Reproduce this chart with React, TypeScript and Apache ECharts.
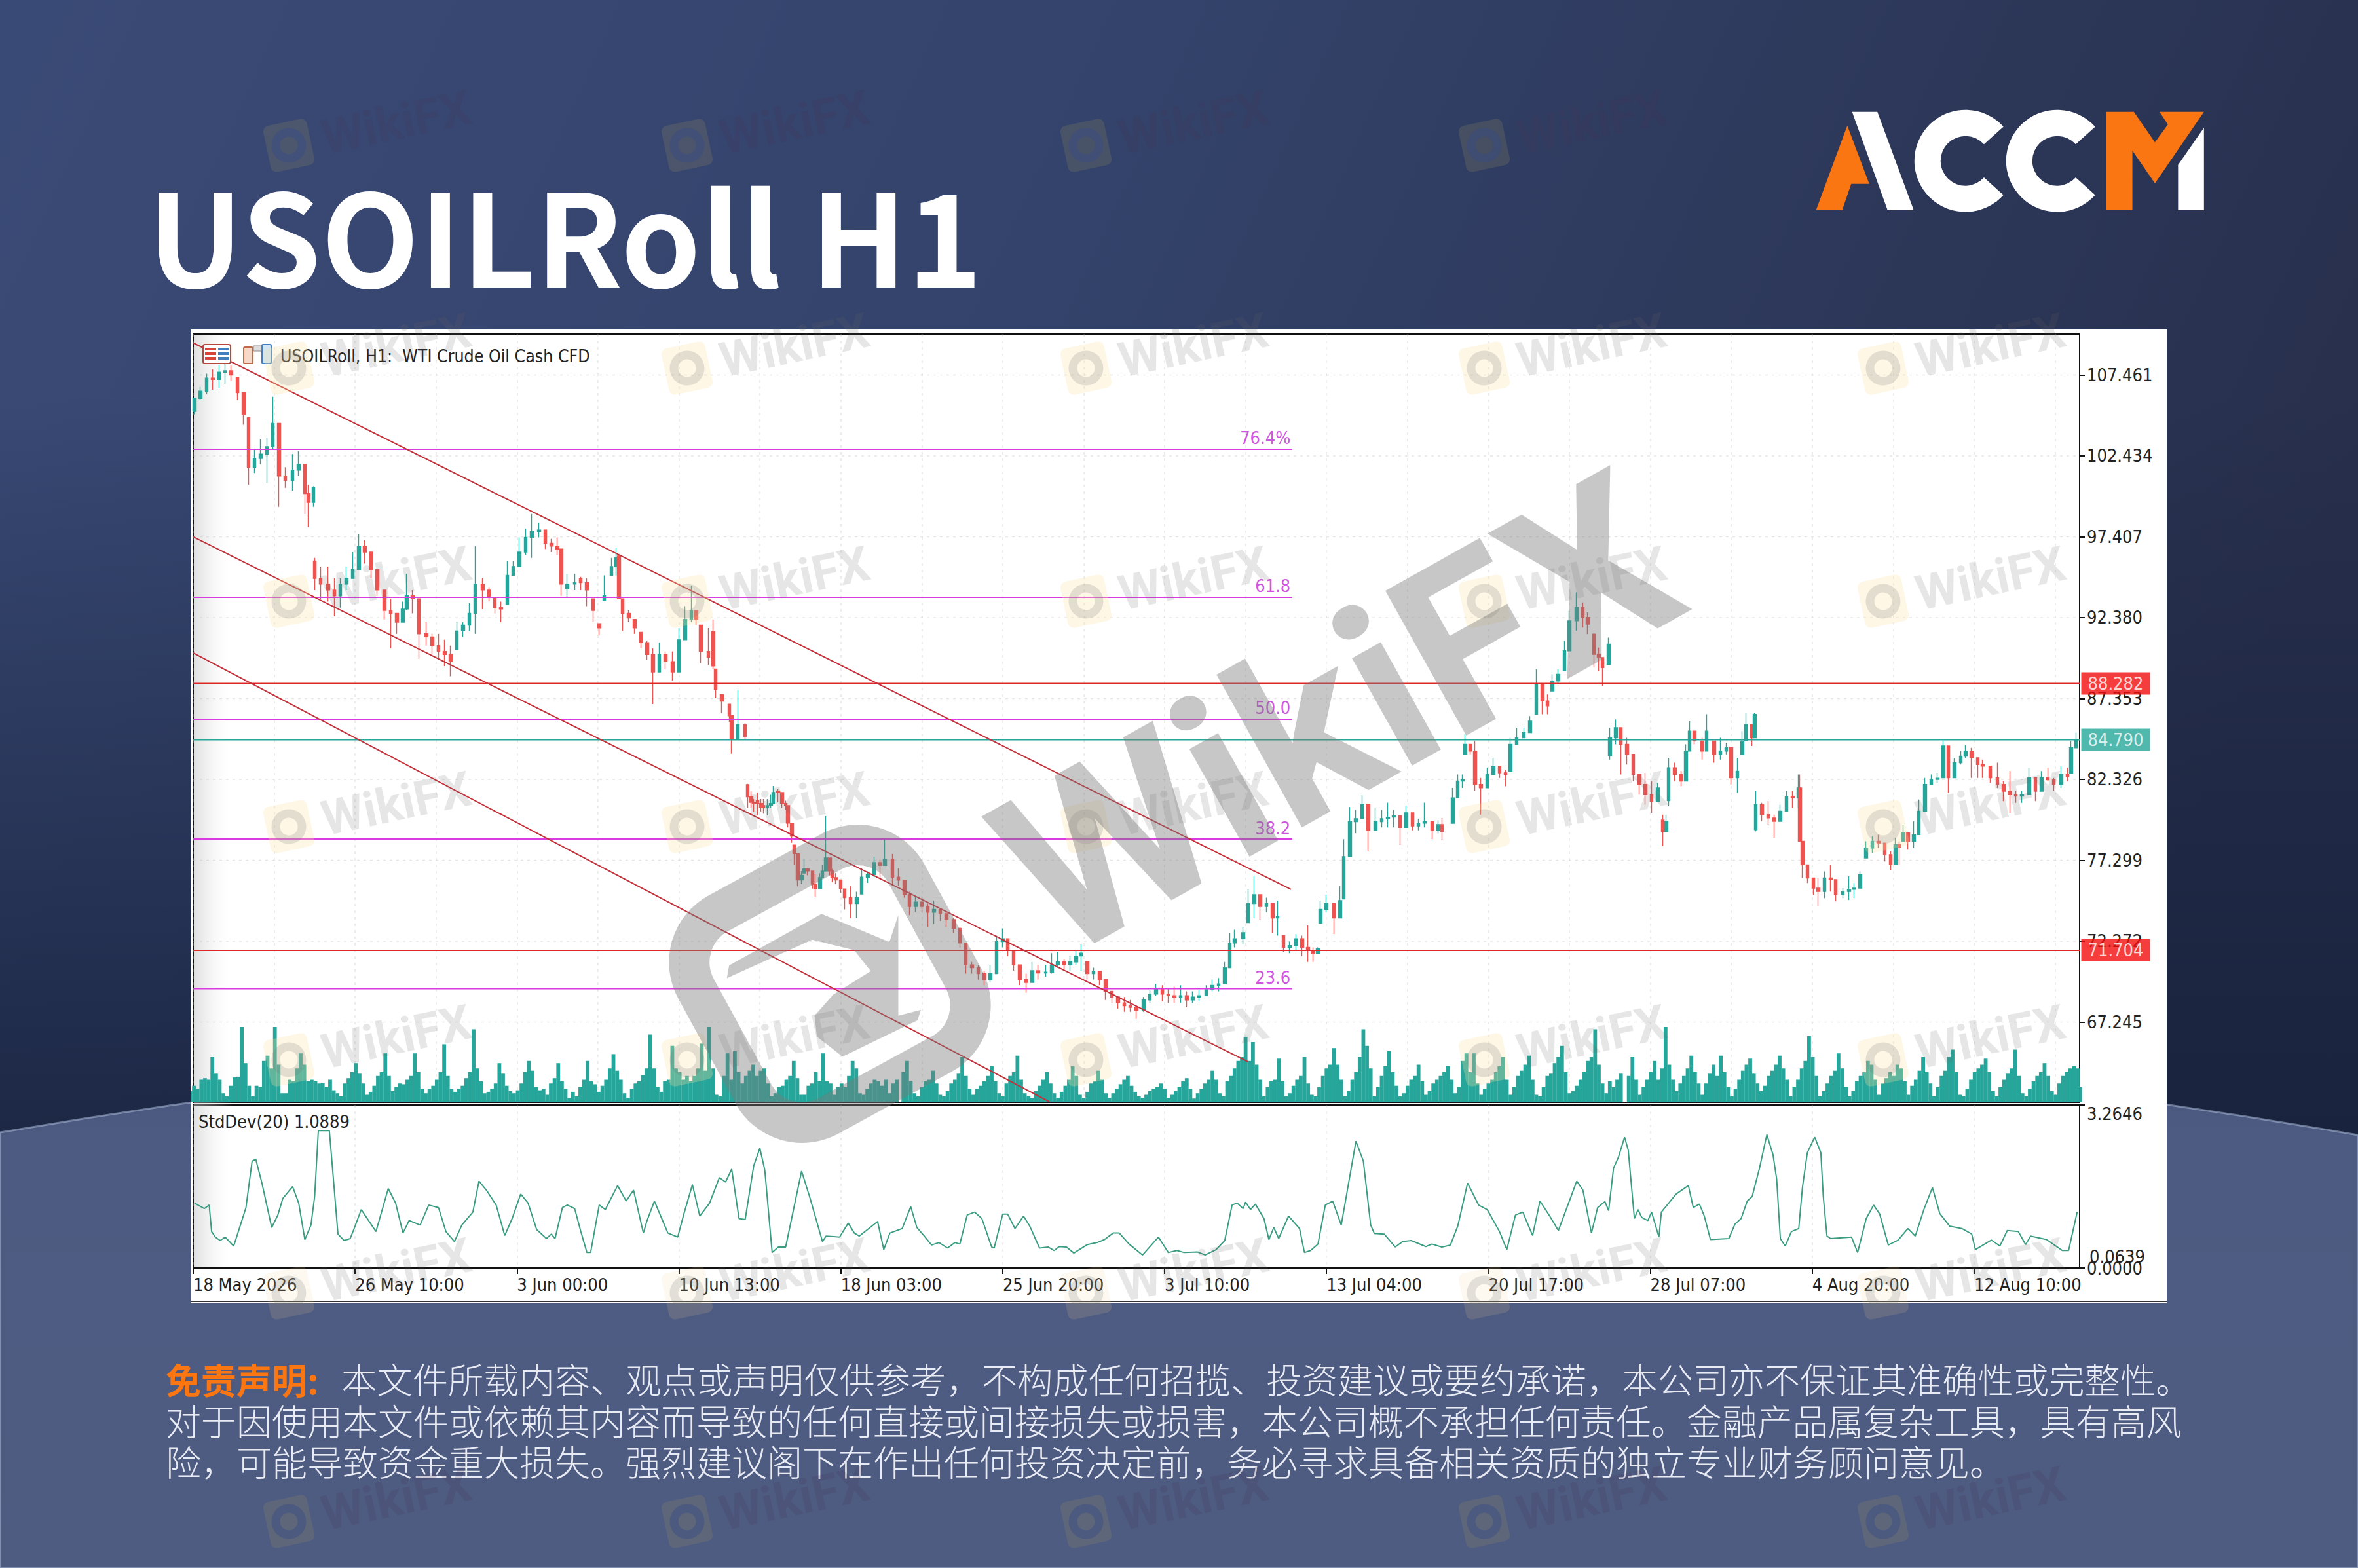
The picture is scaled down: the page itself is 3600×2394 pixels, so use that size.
import React, { useEffect, useRef } from "react";
import * as echarts from "echarts";

const W = 3600;
const H = 2394;

// [hour index, open, close, low, high]
const candlesFirst = [
[1,105.2,106,105,106],[6,106,106.45,105.9,106.72],[11,106.45,107.27,106.27,107.54],[16,107.27,107.18,106.54,107.81],[21,107.18,107.63,106.63,108.08],[26,107.63,107.72,106.9,108.17],[31,107.72,107.45,107.09,108.08],[36,107.3,106.36,105.9,107.3],[41,106.36,105,104.36,106.36],[45,104.81,101.73,100.63,104.81],[50,101.73,102.27,101.36,102.82],[55,102.27,102.54,101.91,103.45],[60,102.54,103,100.73,103.54],[65,103,104.45,102.82,106.1],[70,104.45,101.18,99.27,104.45],[75,101.18,100.9,100.45,101.73],[81,100.9,101.54,100.27,102.54],[86,101.54,101.9,101.18,102.73],[91,101.9,100.09,98.82,101.9],[94,100.09,99.54,98,100.63],[98,99.54,100.45,99.27,100.54],
];
const candlesSecond = [
[99,95.9,94.82,94.09,96.09],[104,94.82,94.46,93.55,95.55],[110,94.46,94.09,93.37,95.55],[115,94.09,93.73,92.46,94.82],[120,93.73,94.46,93,94.82],[125,94.46,94.82,94.09,95.55],[130,94.82,95.36,94.82,96.45],[135,95.36,96.82,95.36,97.55],[140,96.82,96.45,95.73,97.18],[145,96.45,95.36,94.82,96.45],[150,95.36,94.09,93.73,95.36],[156,94.09,92.82,92.27,94.09],[161,92.82,92.64,90.46,93.55],[166,92.64,92.09,91.37,92.64],[171,92.09,92.91,92.09,93.37],[174,92.91,93.73,92.82,95.09],[179,93.73,93.55,92.64,94.09],[184,93.55,91.37,89.82,93.55],[190,91.37,91.18,90.64,92.09],[195,91.18,90.64,90.09,91.37],[200,90.64,90.27,89.73,91.37],[205,90.27,90.09,89.37,91],[210,90.09,89.64,88.73,90.64],[215,90.4,91.55,90.4,92.09],[220,91.55,91.91,91.18,92.09],[225,91.91,92.64,91.55,93.27],[230,92.64,94.46,91.37,96.82],[236,94.46,94.09,92.91,94.82],[241,94.09,93.64,93.37,94.27],[246,93.64,93,92.64,93.64],[251,93,92.91,92.09,93.37],[256,93.2,95,93.2,95.91],[261,95,95.55,95,95.91],[266,95.55,96.45,95.55,97.36],[271,96.45,97.36,96.27,97.9],[276,97.36,97.73,96.09,98.82],[282,97.73,97.82,97.36,98.27],[287,97.82,97,96.64,97.82],[292,97,96.82,96.45,97.27],[297,96.82,96.64,96.27,97.36],[300,96.64,94.46,93.73,96.64],[305,94.2,94.46,93.64,95.09],[311,94.46,94.55,94.09,95.09],[316,94.8,94.55,94.09,94.91],[321,94.55,94.09,93.09,94.82],[326,93.55,92.82,92.09,93.55],[331,92,91.73,91.27,92],[335,93.46,93.73,93.46,95],[341,95,95.55,95,96.09],[345,95.55,96.09,95,96.73],[347,96.2,93.55,93.55,96.27],[350,93.55,92.64,91.55,93.55],[355,92.64,92.36,92.09,92.82],[360,92.27,91.73,91.37,92.27],[365,91.46,90.82,90.46,91.46],[370,90.82,90.09,89.73,90.91],[375,90.09,89,87,90.46],[380,89,90.09,89,90.82],[385,90.09,89.64,89.18,90.27],[391,89.64,89,88.46,90.27],[396,89,91,89,91.73],[401,91,92.27,91,93.09],[406,92.27,92.82,92.09,94.37],[410,92.82,92.27,91.91,92.82],[414,91.91,90.27,89.55,91.91],[420,90.27,89.91,89.45,91.73],[424,91.5,89.37,89.18,92.27],[426,89.18,87.91,87.37,89.18],[431,87.6,87.19,86.46,87.64],[437,87,86.28,85.91,87],[439,86.28,84.83,83.92,86.28],[444,84.83,85.73,84.83,87.9],[450,85.73,85,84.83,85.82],
];
const candlesThird = [
[452,82,81.24,80.56,82.05],[455,81.24,80.9,80.56,81.58],[457,80.9,80.83,80.29,81.1],[460,81,80.83,80.09,81.51],[463,80.83,80.56,80.29,81.1],[465,80.7,80.56,80.2,81.1],[468,80.56,80.7,80.09,81.1],[471,80.7,80.83,80.56,81.37],[473,80.83,81.51,80.83,81.92],[477,81.6,81.51,80.9,81.71],[480,81.51,80.83,80.56,81.51],[483,80.83,80.7,80.43,81],[485,80.7,79.61,79.34,80.7],[488,79.61,78.8,78.39,79.61],[490,78.25,77.71,77.03,78.25],[493,77.71,76.08,75.68,77.71],[496,76.08,76.36,75.81,76.63],[498,76.5,76.76,76.49,77.37],[501,76.76,76.63,76.36,76.76],[505,76.63,75.81,75.54,76.63],[507,75.81,75.54,75,76.42],[511,75.54,76.22,75.54,76.49],[513,76.22,76.63,76.2,77.03],[516,76.63,77.44,76.6,80.05],[519,77.44,76.63,76.36,77.44],[521,76.63,76.22,75.95,76.76],[524,76.22,76.08,75.81,76.49],[528,76.08,75.54,75.27,76.08],
[531,75.52,74.98,74.25,75.52],[536,74.98,74.61,73.71,75.71],[541,74.61,74.98,73.71,75.34],[545,75.2,76.25,75.2,76.8],[550,76.25,76.4,75.89,76.61],[555,76.4,77.16,76.25,77.52],[560,77.16,76.98,76.07,77.34],[564,76.98,77.34,76.98,78.61],[570,77.34,76.25,75.71,77.7],[575,76.25,76.07,75.71,76.8],[580,76.07,75.16,74.98,76.07],[584,75.16,74.43,73.89,75.34],[589,74.43,74.71,74.07,75.07],[594,74.71,74.43,74.07,74.98],[599,74.43,74.07,73.16,74.61],[604,74.07,74.25,73.34,74.8],[609,74.25,73.98,73.53,74.25],[614,73.98,73.62,73.16,74.07],[620,73.62,73.07,72.8,73.71],[625,73.07,72.16,71.89,73.16],[630,72.16,70.8,70.26,72.16],[635,70.8,70.62,70.26,70.98],[640,70.62,70.26,69.89,70.8],[645,70.26,69.89,69.53,70.44],[650,69.89,70.26,69.71,70.8],[655,70.26,72.25,70.26,72.62],[660,72.25,72.43,71.89,73.07],[664,72.43,71.71,71.35,72.43],[669,71.71,70.8,70.44,71.71],[674,70.8,69.89,69.53,70.8],[679,69.89,69.71,69.07,70.26],[684,69.71,70.44,69.71,70.98],[689,70.44,70.3,69.89,70.8],[695,70.3,70.35,70.07,70.8],[700,70.35,70.8,70.26,71.53],[705,70.8,70.98,70.62,71.62],[710,70.98,70.8,70.44,71.16],[715,70.8,70.98,70.44,71.35],[720,70.98,71.35,70.8,71.71],[724,71.35,71.53,70.44,72.07],[729,71,70.26,69.89,71],[734,70.26,70.4,69.89,70.62],[739,70.4,69.89,69.53,70.4],[744,69.89,69.16,68.62,69.89],[749,69.16,68.8,68.44,69.16],[754,68.8,68.44,68.07,68.8],[759,68.44,68.26,67.89,68.8],[764,68.26,68.16,67.89,68.62],[769,68.16,67.98,67.44,68.26],[775,67.98,68.62,67.89,68.8],[780,68.62,68.98,68.44,69.26],[785,68.98,69.35,68.89,69.62],[790,69.35,68.98,68.53,69.53],[795,68.98,68.89,68.44,69.35],[800,68.89,68.8,68.44,69.44],[805,68.8,68.89,68.44,69.53],[810,68.89,68.62,68.16,69.16],[815,68.62,68.8,68.44,69.16],[820,68.8,68.89,68.53,69.26],[826,68.89,69.26,68.89,69.53],[831,69.26,69.53,69.16,69.89],[836,69.53,69.62,69.16,69.98],[841,69.62,70.62,69.62,70.98],[845,70.62,72.16,70.62,72.8],[849,72.16,72.43,71.89,72.98],[856,72.43,72.8,72.07,73.16],[860,73.43,74.61,73.43,75.52],[865,74.61,75.16,73.71,76.34],[870,75.16,74.43,73.62,75.16],[875,74.43,74.6,74.07,74.98],[880,74.6,73.71,72.8,74.6],[884,73.71,73.8,72.62,74.8],[889,72.62,71.89,71.62,72.62],[894,71.89,72,71.53,72.25],[899,72,72.43,71.71,72.71],[904,72.43,71.89,71.35,72.62],[909,71.89,71.71,70.98,73.25],[913,71.71,71.53,70.98,71.89],[917,71.53,71.8,71.53,71.89],
];
const candlesFourth = [
[919,73.4,74.25,73.34,74.8],[924,74.25,74.61,74.07,75.16],[930,74.61,73.71,72.71,74.61],[935,73.71,74.8,73.71,75.71],[938,74.9,77.52,74.9,78.61],[943,77.52,79.7,77.52,80.61],[948,79.7,79.88,78.98,80.43],[953,79.88,80.79,79.88,81.34],[958,80.79,79.16,77.89,80.79],[964,79.16,79.7,79.16,80.52],[969,79.7,79.88,79.34,80.43],[974,79.88,79.98,79.34,80.88],[979,79.98,80.07,79.34,80.43],[984,80.07,79.34,78.25,80.07],[989,79.34,80.25,79.34,80.7],[994,80.25,79.43,79.16,80.25],[999,79.43,79.61,79.16,79.88],[1004,79.61,79.7,79.34,80.88],[1010,79.7,79.16,78.61,79.7],[1015,79.16,79.52,78.98,79.79],[1018,79.52,79.1,78.58,79.93],[1027,79.6,81.18,79.6,81.8],[1031,81.18,82.22,81.18,82.63],[1035,82.22,82.3,81.8,82.63],[1037,83.9,84.5,83.9,85.12],[1041,84.5,84.08,83.88,84.5],[1045,84.08,82.01,81.59,84.71],[1050,82.01,81.8,80.14,82.42],[1055,81.8,82.63,81.8,83.05],[1060,82.63,83.15,82.63,83.67],[1065,83.15,82.73,82.42,83.15],[1070,82.73,82.63,81.9,82.94],[1074,82.84,84.5,82.84,84.91],[1079,84.5,84.91,84.5,85.54],[1085,84.91,85.23,84.91,85.54],[1090,85.23,85.95,85.23,86.26],[1095,86.37,88.24,86.37,89.17],[1100,88.24,87.2,86.37,88.24],[1104,87.2,86.89,86.37,87.61],[1108,87.82,88.44,87.82,88.86],[1113,88.44,88.86,88.24,89.17],[1118,89.07,90.31,89.07,90.93],[1122,90.31,92.18,90.31,92.8],[1128,92.18,93.01,91.56,93.94],[1133,93.01,92.39,91.76,93.32],[1137,92.39,91.97,91.35,92.7],[1142,91.35,90.1,89.27,91.35],[1146,90.1,89.9,89.07,90.52],[1149,89.9,89.27,88.13,89.9],[1154,89.48,90.73,89.48,91.14],
[1155,83.8,84.91,83.56,85.54],[1160,84.91,85.54,84.5,86.06],[1164,85.54,84.5,82.63,85.54],[1169,84.5,83.88,83.25,84.91],[1174,83.88,82.63,82.22,83.88],[1179,82.63,82.01,81.38,82.63],[1184,82.01,81.38,80.76,82.73],[1189,81.38,80.97,80.24,82.22],[1194,80.97,81.8,80.97,82.11],[1198,79.8,79.1,78.17,80.14],[1201,79.1,79.72,79.1,80.14],[1203,81,83.05,80.66,83.67],[1208,83.05,82.63,82.22,83.36],[1213,82.63,82.22,81.9,82.84],[1217,82.22,84.08,82.22,84.5],[1220,84.08,85.33,84.08,85.95],[1224,85.33,84.71,84.5,85.33],[1230,84.71,84.08,83.56,84.91],[1234,84.08,85.33,84.08,86.37],[1240,84.71,83.88,83.36,84.71],[1245,83.88,84.08,83.56,84.91],[1250,84.08,84.29,83.88,84.6],[1254,84.29,82.42,82.01,84.29],[1259,82.42,82.84,81.49,83.67],[1263,83.88,84.71,83.88,85.33],[1266,84.71,85.74,84.71,86.48],[1271,85.74,84.91,84.4,85.74],[1273,84.91,86.37,84.91,86.48],
[1274,79.2,80.76,79.1,81.59],[1279,80.76,80.14,79.72,80.87],[1284,80.14,79.93,79.52,80.97],[1289,79.93,79.72,78.69,80.14],[1294,79.72,80.35,79.72,80.76],[1299,80.35,81.28,80.35,81.59],[1304,81.28,81.18,80.55,81.59],[1309,81.18,81.8,80.55,82.63],[1310,81.8,78.48,78.48,82.63],[1312,78.48,77.02,76.2,78.48],[1316,77.02,76.2,75.88,77.02],[1321,76.2,75.57,75.16,76.2],[1325,75.57,75.36,74.43,76.2],[1330,75.36,76.2,74.95,76.61],[1335,76.2,76.1,75.36,77.02],[1339,76.1,75.16,74.74,76.1],[1345,75.16,75.36,74.95,75.57],[1350,75.36,75.5,74.84,76.3],[1354,75.5,75.57,74.95,75.88],[1359,75.57,76.4,75.57,76.61],[1364,77.44,78.06,77.44,78.48],[1369,78.06,78.48,77.75,78.79],[1374,78.48,78.37,78.06,78.89],[1379,78.37,77.65,77.23,78.37],[1384,77.65,77.02,76.71,77.85],[1388,77.02,78.27,77.02,78.69],[1391,78.27,78.1,77.02,78.48],[1394,78.48,79,78.48,79.52],[1398,79,78.48,77.96,79],[1403,78.48,78.89,78.06,79.72],[1407,78.89,80.35,78.89,81.07],[1412,80.35,82.01,80.35,82.42],[1417,82.01,82.32,82.01,82.63],[1422,82.32,82.4,82.11,82.73],[1427,82.42,84.4,82.42,84.75],[1431,84.4,82.42,81.49,84.4],[1436,82.42,83.36,82.42,83.67],[1441,83.36,83.77,83.25,84.08],[1445,83.77,84.08,83.67,84.46],[1450,84.08,83.67,82.42,84.29],[1455,83.67,83.25,82.42,83.67],[1459,83.25,83.15,82.42,83.56],[1465,83.15,82.42,82.11,83.15],[1471,82.42,82.01,81.8,83.36],[1476,82.01,81.59,80.97,82.22],[1481,81.59,81.38,80.24,82.84],[1486,81.38,81.28,80.87,81.59],[1491,81.28,81.38,80.87,81.59],[1497,81.38,82.42,81.38,83.05],[1502,82.42,81.59,80.97,82.42],[1507,81.59,82.42,81.59,82.84],[1512,82.42,82.3,82.22,83.05],[1517,82.3,82.01,81.59,82.42],[1523,82.01,82.63,81.8,83.15],[1528,82.63,82.5,82.22,83.05],[1531,82.7,84.29,82.7,84.71],[1535,84.29,84.79,84.29,85.23],
];

// volume, one reading per three hours
const volumeFirst = [15,22,18,30,32,30,60,38,30,12,8,22,33,34,100,52,22,8,22,20,55,62,45,100,50,12,12,30,28,45,65,50,28,30,28,25,26,20,30,16,12,8,25,32,40,52,38,25,10,14,22,35,40,65,35,15,20,25,24,30,35,65,40,18,12,18,22,30,40,77,35,18,14,18,22,32,40,97,45,28,12,14,18,25,52,38,22,15,12,16,25,40,55,42,20,16,18,10,25,32,52,28,18,6,14,8,20,30,55,28,24,14,22,30,45,64,42,30,12,6,18,25,28,36,45,90,45,20,14,28,30,75,45,40,30,35,28,35,45,78,42,100,45,10,8,35,65,30,68,40,25,35,42,50,35,42,45,25,8,12,20,22,30,35,55,32,10,10,22,25,40,28,65,28,25,10,20,25,20,35,55,45,12,10,18,25,30,28,22,30,12,25,30];
const volumeSecond = [40,55,28,12,8,20,28,30,42,25,10,8,15,25,30,38,60,35,18,10,18,22,28,35,48,28,12,8,25,35,40,62,30,12,8,6,15,22,30,40,25,12,6,14,22,30,48,35,10,6,14,25,28,42,30,12,6,12,18,24,30,35,22,14,8,6,10,15,18,20,25,18,6,10,15,20,28,32,18,5,12,18,25,30,42,30,12,8,28,35,45,55,60,87,55,80,50,30,8,20,28,30,58,28,8,12,22,30,35,60,25,10,8,20,35,45,50,72,50,30,8,15,30,40,60,97,75,45,8,20,35,48,68,40,22,8,12,22,30,35,50,28,10,15,25,30,35,40,48,30,12,20,55,65,40,65,25,10,18,25,30,40,48,60,30,10,20,35,42,50,62,30,10,8,20,35,38,52,60,75,40,12,15,22,30,40,55,60,97,50,25,12,28,20,30,38];
const volumeThird = [35,60,30,10,20,30,40,55,30,45,100,50,30,15,25,35,45,62,40,25,10,25,38,50,35,62,40,20,8,18,30,42,50,58,38,25,15,22,35,42,50,62,45,30,8,20,30,45,55,88,60,35,8,15,25,35,42,65,45,20,8,15,28,35,40,55,50,30,10,25,32,40,35,50,45,28,10,22,30,42,60,40,25,8,20,35,42,60,70,40,10,8,18,30,40,45,50,58,40,15,8,20,30,38,45,70,35,12,8,18,28,35,40,52,35,15,10,25,35,40,45,48,45,20,12];

// StdDev(20) readings: [hour index, value]
const stdDev = [
[1,1.3],[9,1.19],[13,1.26],[15,.73],[18,.62],[22,.55],[26,.62],[33,.44],[39,.9],[43,1.21],[48,2.14],[51,2.18],[56,1.7],[64,.81],[69,1.06],[73,1.39],[81,1.63],[86,1.3],[91,.57],[96,.86],[99,1.43],[102,2.75],[111,2.75],[114,1.87],[118,.68],[123,.55],[128,.59],[132,.84],[137,1.17],[149,.73],[159,1.59],[165,1.3],[171,.7],[176,.95],[185,.86],[192,1.26],[200,1.21],[206,.73],[213,.53],[219,.86],[228,1.12],[233,1.74],[239,1.56],[247,1.26],[254,.65],[260,.99],[267,1.48],[273,1.3],[280,.77],[288,.59],[292,.68],[295,.59],[301,1.21],[305,1.26],[311,1.19],[316,.73],[321,.31],[324,.31],[331,1.26],[336,1.17],[346,1.65],[353,1.34],[359,1.56],[367,.7],[370,.95],[376,1.34],[382,.99],[387,.7],[395,.62],[400,1.08],[407,1.67],[413,1.04],[421,1.3],[429,1.81],[434,1.72],[439,1.98],[445,.99],[450,.97],[457,2.05],[462,2.4],[466,1.96],[472,.31],[477,.42],[483,.42],[496,1.94],[503,1.39],[513,.53],[516,.64],[527,.62],[534,.9],[539,.7],[543,.64],[558,.93],[563,.37],[568,.7],[578,.79],
[585,1.23],[590,.81],[596,.64],[602,.46],[608,.51],[615,.4],[621,.51],[625,.48],[631,1.06],[637,1.12],[643,.99],[651,.42],[653,.4],[660,1.08],[664,1.08],[670,.79],[677,1.04],[682,.84],[690,.4],[697,.42],[702,.35],[706,.43],[712,.42],[718,.3],[729,.47],[737,.51],[743,.57],[750,.7],[755,.7],[763,.48],[774,.26],[787,.62],[795,.31],[802,.35],[808,.31],[819,.32],[825,.26],[834,.37],[841,.55],[847,1.26],[851,1.3],[856,1.19],[858,1.32],[862,1.17],[866,1.28],[873,.99],[877,.57],[881,.81],[885,.59],[893,1.04],[902,.79],[906,.31],[911,.35],[917,.48],[923,1.26],[929,1.34],[936,.86],[948,2.54],[954,2.14],[960,.86],[963,.69],[971,.68],[980,.42],[986,.53],[993,.55],[1005,.43],[1010,.48],[1018,.42],[1025,.46],[1031,.84],[1039,1.7],[1048,1.26],[1055,1.17],[1065,.73],[1071,.37],[1078,1.06],[1084,1.12],[1092,.65],[1098,1.34],[1106,1.04],[1113,.75],[1128,1.74],[1133,1.56],[1140,.7],[1145,1.21],[1151,1.33],[1154,1.15],[1158,2],[1162,2.22],[1167,2.62],
[1170,2.36],[1175,.99],[1178,1.17],[1181,1.01],[1186,.95],[1189,1.12],[1195,.62],[1197,1.12],[1209,1.48],[1219,1.65],[1223,1.21],[1228,1.28],[1232,1.04],[1237,.57],[1252,.59],[1257,.88],[1262,.99],[1267,1.34],[1271,1.43],[1277,2],[1283,2.67],[1288,2.27],[1291,1.78],[1294,.59],[1298,.44],[1303,.73],[1309,.79],[1312,1.61],[1316,2.31],[1322,2.62],[1327,2.31],[1329,1.43],[1332,.64],[1335,.59],[1352,.62],[1357,.31],[1364,.99],[1370,1.26],[1375,1.08],[1382,.46],[1390,.56],[1398,.79],[1404,.64],[1411,1.17],[1418,1.61],[1424,1.09],[1432,.84],[1442,.79],[1450,.68],[1453,.37],[1466,.56],[1473,.44],[1479,.75],[1488,.73],[1494,.47],[1498,.64],[1511,.57],[1524,.35],[1529,.35],[1536,1.12],
];

const priceTicks = [67.245, 72.272, 77.299, 82.326, 87.353, 92.38, 97.407, 102.434, 107.461];
const stdTicks = [0, 3.2646];
const timeLabels = ["18 May 2026", "26 May 10:00", "3 Jun 00:00", "10 Jun 13:00", "18 Jun 03:00", "25 Jun 20:00", "3 Jul 10:00", "13 Jul 04:00", "20 Jul 17:00", "28 Jul 07:00", "4 Aug 20:00", "12 Aug 10:00"];
const HOURS_PER_LABEL = 132;
const LAST_HOUR = 1538;

const fibLevels = [
  { name: "76.4%", price: 102.84 },
  { name: "61.8", price: 93.64 },
  { name: "50.0", price: 86.07 },
  { name: "38.2", price: 78.62 },
  { name: "23.6", price: 69.32 },
];
const fibEndHour = 896;
const redLevels = [88.282, 71.704];
const bidLevel = 84.79;
const channels = [
  [[0, 109.45], [895, 75.49]],
  [[0, 97.4], [860, 64.78]],
  [[0, 90.18], [698, 62.3]],
];

const headerText = "USOILRoll, H1:  WTI Crude Oil Cash CFD";
const indicatorText = "StdDev(20) 1.0889";
const titleText = "USOILRoll H1";
const disclaimerHead = "免责声明:";
const disclaimerLines = [
  "本文件所载内容、观点或声明仅供参考\uFF0C不构成任何招揽、投资建议或要约承诺\uFF0C本公司亦不保证其准确性或完整性。",
  "对于因使用本文件或依赖其内容而导致的任何直接或间接损失或损害\uFF0C本公司概不承担任何责任。金融产品属复杂工具\uFF0C具有高风",
  "险\uFF0C可能导致资金重大损失。强烈建议阁下在作出任何投资决定前\uFF0C务必寻求具备相关资质的独立专业财务顾问意见。",
];
const disclaimerSizes = [54, 54.6, 54];
const disclaimerStretch = [1.006, 0.989, 1];

const UP = "#26a69a";
const DOWN = "#ef5350";
const MAGENTA = "#d93be0";
const ORANGE = "#f97612";
const CHART_FONT = "'DejaVu Sans Condensed', 'DejaVu Sans', sans-serif";
const CJK = "'Noto Sans CJK SC', sans-serif";

echarts.graphic.registerShape("bgBand", echarts.graphic.extendPath("M0 1729 Q1800 1420 3600 1733 L3600 2394 L0 2394 Z", {}));

const G = echarts.graphic as any;

function poly(points: number[][], fill: string, z = 5) {
  return { type: "polygon", z, shape: { points }, style: { fill } };
}

function logoC(cx: number, cy: number) {
  const a = (42 * Math.PI) / 180;
  return {
    type: "sector", z: 5,
    shape: { cx, cy, r0: 38, r: 78, startAngle: a, endAngle: Math.PI * 2 - a, clockwise: true },
    style: { fill: "#fff" },
  };
}

function tile(x: number, y: number, mode: "dark" | "white" | "mixed") {
  const z = 60;
  const rectFill = mode === "dark" ? "rgba(150,140,95,0.22)" : mode === "mixed" ? "rgba(240,215,150,0.14)" : "rgba(250,225,160,0.28)";
  const ringColor = mode === "dark" ? "rgba(55,75,135,0.45)" : "rgba(120,118,118,0.2)";
  const textFill = mode === "dark" ? "rgba(70,50,85,0.18)" : "rgba(105,98,98,0.16)";
  return {
    type: "group", x, y, rotation: 0.21,
    children: [
      { type: "rect", z, shape: { x: -34, y: -36, width: 68, height: 72, r: 9 }, style: { fill: rectFill } },
      { type: "circle", z, shape: { cx: 0, cy: 0, r: 20 }, style: { fill: "none", stroke: ringColor, lineWidth: 13 } },
      { type: "text", z, x: 52, y: 0, style: { text: "WikiFX", fontSize: 74, fontWeight: "bold", fontFamily: "Roboto", fill: textFill, textVerticalAlign: "middle" } },
    ],
  };
}

function buildGraphic() {
  const el: any[] = [];
  el.push({
    type: "rect", z: -5, shape: { x: 0, y: 0, width: W, height: H },
    style: {
      fill: new G.LinearGradient(0, 0, 1, 0.3, [
        { offset: 0, color: "#3a4a76" },
        { offset: 0.45, color: "#34436b" },
        { offset: 1, color: "#272f4c" },
      ]),
    },
  });
  el.push({
    type: "rect", z: -5, shape: { x: 0, y: 600, width: W, height: 1200 },
    style: {
      fill: new G.LinearGradient(0, 0, 0, 1, [
        { offset: 0, color: "rgba(22,32,58,0)" },
        { offset: 1, color: "rgba(22,32,58,0.85)" },
      ]),
    },
  });
  el.push({
    type: "bgBand", z: -4,
    style: {
      fill: new G.LinearGradient(0, 0, 0, 1, [
        { offset: 0, color: "#46547c" },
        { offset: 0.2, color: "#4d5a81" },
        { offset: 1, color: "#4f5c82" },
      ]),
      stroke: "rgba(170,185,215,0.55)", lineWidth: 3,
    },
  });

  // white chart frame
  el.push({ type: "rect", z: -3, shape: { x: 291, y: 503, width: 3017, height: 1487 }, style: { fill: "#fff" } });
  el.push({ type: "line", z: 1, shape: { x1: 291, y1: 1987, x2: 3308, y2: 1987 }, style: { stroke: "#333", lineWidth: 2 } });
  el.push({
    type: "rect", z: 0, shape: { x: 296, y: 511, width: 60, height: 1424 },
    style: { fill: new G.LinearGradient(0, 0, 1, 0, [{ offset: 0, color: "rgba(190,190,190,0.5)" }, { offset: 1, color: "rgba(255,255,255,0)" }]) },
  });

  // toolbar icons
  el.push({ type: "rect", z: 6, shape: { x: 310, y: 526, width: 42, height: 29, r: 3 }, style: { fill: "#fff", stroke: "#b5473f", lineWidth: 2 } });
  [531, 538, 545].forEach((y) => {
    el.push({ type: "rect", z: 6, shape: { x: 313, y, width: 17, height: 4 }, style: { fill: "#d8433a" } });
    el.push({ type: "rect", z: 6, shape: { x: 333, y, width: 16, height: 4 }, style: { fill: "#3f7fc0" } });
  });
  el.push({ type: "rect", z: 6, shape: { x: 372, y: 530, width: 14, height: 25, r: 2 }, style: { fill: "#f6d9c8", stroke: "#c06a4a", lineWidth: 2 } });
  el.push({ type: "rect", z: 6, shape: { x: 400, y: 526, width: 14, height: 29, r: 2 }, style: { fill: "#cfe6f7", stroke: "#3f7fc0", lineWidth: 2 } });
  el.push({ type: "rect", z: 6, shape: { x: 387, y: 528, width: 12, height: 8 }, style: { fill: "#ddd", stroke: "#888", lineWidth: 1 } });

  el.push({ type: "text", z: 6, x: 428, y: 543, style: { text: headerText, fontSize: 26.5, fontFamily: CHART_FONT, fill: "#222", textVerticalAlign: "middle" } });
  el.push({ type: "text", z: 6, x: 303, y: 1712, style: { text: indicatorText, fontSize: 27, fontFamily: CHART_FONT, fill: "#222", textVerticalAlign: "middle" } });
  el.push({ type: "text", z: 6, x: 3190, y: 1918, style: { text: "0.0639", fontSize: 27, fontFamily: CHART_FONT, fill: "#222", textVerticalAlign: "middle" } });

  // title
  el.push({ type: "text", z: 5, x: 225, y: 354, style: { text: titleText, fontSize: 195, fontWeight: "bold", fontFamily: CJK, fill: "#fff", textVerticalAlign: "middle" } });

  // logo
  const lx = (v: number) => 2700 + v / 2.178;
  const ly = (v: number) => 130 + v / 3;
  const mapPts = (a: number[][]) => a.map(([x, y]) => [lx(x), ly(y)]);
  el.push(poly(mapPts([[262, 185], [335, 452], [275, 452], [245, 573], [158, 573]]), ORANGE));
  el.push(poly(mapPts([[278, 122], [362, 122], [483, 573], [396, 573]]), "#fff"));
  el.push(logoC(lx(655), ly(347)));
  el.push(logoC(lx(960), ly(347)));
  el.push(poly(mapPts([[1123, 122], [1215, 122], [1285, 262], [1328, 180], [1300, 122], [1448, 122], [1285, 450], [1210, 300], [1210, 573], [1123, 573]]), ORANGE));
  el.push(poly(mapPts([[1448, 195], [1448, 573], [1362, 573], [1362, 365]]), "#fff"));

  // disclaimer
  el.push({ type: "text", z: 5, x: 253, y: 2105, style: { text: disclaimerHead, fontSize: 54, fontWeight: "bold", fontFamily: CJK, fill: ORANGE, textVerticalAlign: "middle" } });
  [521, 253, 253].forEach((x, i) => {
    el.push({
      type: "text", z: 5, x, y: 2105 + i * 62.5, scaleX: disclaimerStretch[i], originX: 0, originY: 0,
      style: { text: disclaimerLines[i], fontSize: disclaimerSizes[i], fontWeight: 300, fontFamily: CJK, fill: "#e8ebf3", textVerticalAlign: "middle" },
    });
  });

  // tiled watermark
  const cols = [441, 1049, 1658, 2266, 2875];
  const rows = [222, 562, 918, 1262, 1618, 1974, 2323];
  const modes: ("dark" | "white" | "mixed")[] = ["dark", "white", "white", "white", "white", "mixed", "dark"];
  rows.forEach((y, r) => cols.forEach((x, c) => {
    if (r === 0 && c === 4) return;
    el.push(tile(x, y, modes[r]));
  }));

  // large watermark
  const big = "rgba(122,122,122,0.42)";
  const zx = (v: number) => 990 + v / 2.8;
  const zy = (v: number) => 1240 + v / 2.8;
  el.push({
    type: "group", x: 1267, y: 1502, rotation: 0.5,
    children: [
      { type: "rect", z: 61, shape: { x: -183, y: -176, width: 366, height: 352, r: 85 }, style: { fill: "none", stroke: big, lineWidth: 62 } },
    ],
  });
  el.push(poly(
    [[345, 655], [740, 435], [1030, 555], [1068, 440], [1068, 870], [1165, 845], [1150, 890], [830, 1045], [720, 960], [710, 870], [790, 780], [950, 680], [880, 590], [700, 545], [335, 710]].map(([a, b]) => [zx(a), zy(b)]),
    big, 61,
  ));
  el.push({
    type: "text", z: 61, x: 1644, y: 1520, rotation: 0.51, originX: 0, originY: 0,
    style: { text: "WikiFX", fontSize: 356, fontWeight: "bold", fontFamily: "Roboto", fill: big, textVerticalAlign: "bottom" },
  });
  return el;
}

function flatLine(name: string, from: number, to: number, price: number, color: string, width: number, dashed = false) {
  return {
    type: "line", name, xAxisIndex: 0, yAxisIndex: 0, silent: true, showSymbol: false, symbol: "none", z: dashed ? 1 : 4,
    data: [[from, price], [to, price]],
    lineStyle: { color, width, type: dashed ? [4, 6] : "solid" },
  };
}

function candleSeries(name: string, data: number[][]) {
  return {
    type: "candlestick", name, xAxisIndex: 0, yAxisIndex: 0, barWidth: 5, data, z: 3,
    itemStyle: { color: UP, color0: DOWN, borderColor: UP, borderColor0: DOWN, borderWidth: 1.4 },
  };
}

function volumeSeries(name: string, start: number, data: number[]) {
  return {
    type: "bar", name, xAxisIndex: 1, yAxisIndex: 1, barWidth: 5.8, silent: true, z: 2,
    data: data.map((v, i) => [start + i * 3, v]),
    itemStyle: { color: UP },
  };
}

const axisText = { fontFamily: CHART_FONT, fontSize: 27, color: "#222" };

function buildOption() {
  const hourMarks = timeLabels.map((_, i) => i * HOURS_PER_LABEL);
  const series: any[] = [
    ...priceTicks.map((p) => flatLine(`grid ${p}`, 0, LAST_HOUR, p, "rgba(190,190,190,0.4)", 1.5, true)),
    volumeSeries("Volume A", 1, volumeFirst),
    volumeSeries("Volume B", 579, volumeSecond),
    volumeSeries("Volume C", 1167, volumeThird),
    ...fibLevels.map((f) => flatLine(`Fib ${f.name}`, 0, fibEndHour, f.price, MAGENTA, 2)),
    ...redLevels.map((p) => flatLine(`Level ${p}`, 0, LAST_HOUR, p, "#e02626", 2)),
    flatLine("Bid", 0, LAST_HOUR, bidLevel, UP, 2),
    ...channels.map((c, i) => ({
      type: "line", name: `Channel ${i + 1}`, xAxisIndex: 0, yAxisIndex: 0, silent: true, symbol: "none", showSymbol: false, z: 4,
      data: c, lineStyle: { color: "#c4303a", width: 2 },
    })),
    candleSeries("Candles 1", candlesFirst),
    candleSeries("Candles 2", candlesSecond),
    candleSeries("Candles 3", candlesThird),
    candleSeries("Candles 4", candlesFourth),
    {
      type: "scatter", name: "Fib labels", xAxisIndex: 0, yAxisIndex: 0, symbolSize: 1, silent: true, z: 5,
      itemStyle: { color: "transparent" },
      data: fibLevels.map((f) => [fibEndHour, f.price, f.name]),
      label: { show: true, position: "left", distance: 2, offset: [0, -17], color: "#c026d8", fontFamily: CHART_FONT, fontSize: 27, formatter: (p: any) => p.value[2] },
    },
    {
      type: "scatter", name: "Price tags", xAxisIndex: 0, yAxisIndex: 0, symbolSize: 1, silent: true, z: 6,
      itemStyle: { color: "transparent" },
      data: [
        ...redLevels.map((p) => ({ value: [LAST_HOUR, p], bg: "#f20d0d" })),
        { value: [LAST_HOUR, bidLevel], bg: UP },
      ].map((d) => ({
        value: d.value,
        label: { backgroundColor: d.bg },
      })),
      label: {
        show: true, position: "right", distance: 2, color: "#fff", fontFamily: CHART_FONT, fontSize: 27, padding: [4, 10, 3, 10],
        formatter: (p: any) => p.value[1].toFixed(3),
      },
    },
    {
      type: "line", name: "StdDev(20)", xAxisIndex: 2, yAxisIndex: 2, silent: true, symbol: "none", showSymbol: false, z: 3,
      data: stdDev, lineStyle: { color: "#3a9d82", width: 2 },
    },
  ];

  const common = { type: "value", min: 0, max: LAST_HOUR, interval: 66 };
  const vSplit = { show: true, lineStyle: { color: "rgba(190,190,190,0.35)", type: [4, 6], width: 1.5 } };

  return {
    animation: false,
    backgroundColor: "transparent",
    graphic: { elements: buildGraphic() },
    grid: [
      { left: 295, right: W - 3175, top: 510, height: 1173, show: true, borderColor: "#111", borderWidth: 2, backgroundColor: "#fff", z: 0 },
      { left: 295, right: W - 3175, top: 1568, height: 115, show: false },
      { left: 295, right: W - 3175, top: 1687, height: 249, show: true, borderColor: "#111", borderWidth: 2, backgroundColor: "#fff", z: 0 },
    ],
    xAxis: [
      { ...common, gridIndex: 0, axisLine: { show: false, onZero: false }, axisTick: { show: false }, axisLabel: { show: false }, splitLine: vSplit },
      { ...common, gridIndex: 1, show: false },
      {
        ...common, gridIndex: 2, splitLine: vSplit,
        axisLine: { show: true, onZero: false, lineStyle: { color: "#111", width: 2 } },
        axisTick: { show: true, length: 9, customValues: hourMarks, lineStyle: { color: "#111", width: 2 } },
        axisLabel: {
          ...axisText, margin: 12, align: "left", customValues: hourMarks, hideOverlap: false,
          formatter: (v: number) => timeLabels[Math.round(v / HOURS_PER_LABEL)] ?? "",
        },
      },
    ],
    yAxis: [
      {
        type: "value", gridIndex: 0, position: "right", min: 62.26, max: 110, splitLine: { show: false },
        axisLine: { show: true, onZero: false, lineStyle: { color: "#111", width: 2 } },
        axisTick: { show: true, length: 8, customValues: priceTicks, lineStyle: { color: "#111", width: 2 } },
        axisLabel: { ...axisText, margin: 11, customValues: priceTicks, formatter: (v: number) => v.toFixed(3) },
      },
      { type: "value", gridIndex: 1, min: 0, max: 100, show: false },
      {
        type: "value", gridIndex: 2, position: "right", min: 0, max: 3.2646, splitLine: { show: false },
        axisLine: { show: true, onZero: false, lineStyle: { color: "#111", width: 2 } },
        axisTick: { show: true, length: 8, customValues: stdTicks, lineStyle: { color: "#111", width: 2 } },
        axisLabel: { ...axisText, margin: 11, customValues: stdTicks, verticalAlignMaxLabel: "top", formatter: (v: number) => v.toFixed(4) },
      },
    ],
    series,
  };
}

export default function App() {
  const ref = useRef<HTMLDivElement>(null);
  useEffect(() => {
    document.body.style.margin = "0";
    const chart = echarts.init(ref.current!, undefined, { renderer: "svg", width: W, height: H });
    chart.setOption(buildOption() as any);
    return () => chart.dispose();
  }, []);
  return <div ref={ref} style={{ width: W, height: H, position: "absolute", left: 0, top: 0 }} />;
}
